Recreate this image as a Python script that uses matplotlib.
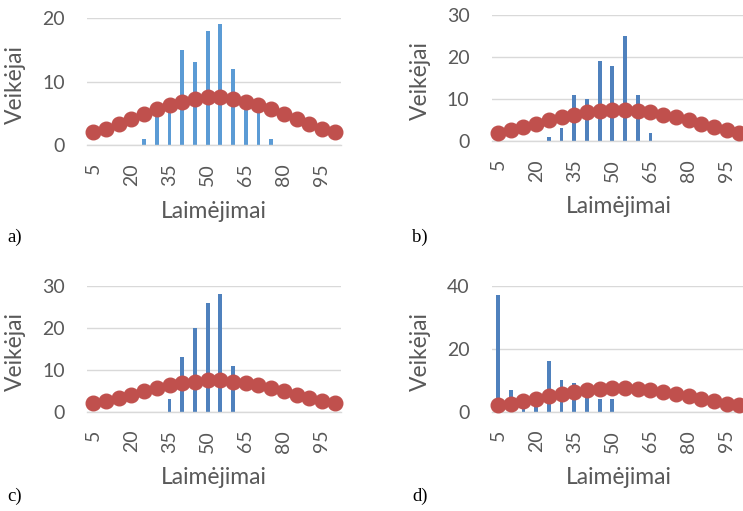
import matplotlib
matplotlib.use('Agg')
import matplotlib.pyplot as plt
import numpy as np

# Win categories (5..100) and the reference normal curve
wins = [5, 10, 15, 20, 25, 30, 35, 40, 45, 50, 55, 60, 65, 70, 75, 80, 85, 90, 95, 100]
curve = [2.0, 2.6, 3.3, 4.1, 4.9, 5.7, 6.3, 6.8, 7.2, 7.5,
         7.5, 7.2, 6.8, 6.3, 5.7, 4.9, 4.1, 3.3, 2.6, 2.0]

# number of characters per win bucket, one list per panel
counts_a = [0, 0, 0, 0, 1, 5, 5, 15, 13, 18, 19, 12, 6, 5, 1, 0, 0, 0, 0, 0]
counts_b = [0, 0, 0, 0, 1, 3, 11, 10, 19, 18, 25, 11, 2, 0, 0, 0, 0, 0, 0, 0]
counts_c = [0, 0, 0, 0, 0, 0, 3, 13, 20, 26, 28, 11, 0, 0, 0, 0, 0, 0, 0, 0]
counts_d = [37, 7, 2, 3, 16, 10, 9, 6, 4, 4, 0, 0, 0, 0, 0, 0, 0, 0, 0, 0]

plt.rcParams['font.family'] = ['Lato', 'DejaVu Sans']

fig = plt.figure(figsize=(7.43, 5.11), dpi=100)

panels = [
    # counts, colour, ymax, ystep, axes rect, letter, letter position
    (counts_a, '#5B9BD5', 20, 10, [0.1171, 0.7162, 0.3419, 0.2485], 'a)', (0.010, 0.536)),
    (counts_b, '#4F81BD', 30, 10, [0.6618, 0.7241, 0.3419, 0.2460], 'b)', (0.555, 0.536)),
    (counts_c, '#4F81BD', 30, 10, [0.1171, 0.1943, 0.3419, 0.2460], 'c)', (0.010, 0.028)),
    (counts_d, '#4F81BD', 40, 20, [0.6618, 0.1943, 0.3419, 0.2460], 'd)', (0.555, 0.028)),
]

x = np.arange(len(wins))
grey = '#595959'

for counts, col, ymax, ystep, rect, letter, lpos in panels:
    ax = fig.add_axes(rect)
    ax.bar(x, counts, width=0.3, color=col, zorder=2)
    ax.plot(x, curve, color='#C0504D', lw=2, marker='o', ms=10.5, zorder=3,
            clip_on=False)
    ax.set_xlim(-0.5, len(wins) - 0.5)
    ax.set_ylim(0, ymax)
    ax.set_yticks(np.arange(0, ymax + 1, ystep))
    ax.set_xticks(x[::3])
    ax.set_xticklabels([str(w) for w in wins[::3]], rotation=90)
    ax.tick_params(axis='x', length=0, pad=13, labelsize=14, colors=grey)
    ax.tick_params(axis='y', length=0, pad=16, labelsize=14, colors=grey)
    ax.grid(axis='y', color='#D9D9D9', lw=1, zorder=0)
    ax.set_axisbelow(True)
    for s in ['top', 'right', 'left']:
        ax.spines[s].set_visible(False)
    ax.spines['bottom'].set_color('#D9D9D9')
    ax.spines['bottom'].set_linewidth(1)
    ax.set_ylabel('Veikėjai', fontsize=16.5, color=grey)
    ax.set_xlabel('Laimėjimai', fontsize=16.5, color=grey)
    ax.yaxis.set_label_coords(-0.28, 0.48)
    ax.xaxis.set_label_coords(0.5, -0.525)
    ax.xaxis.label.set_va('center')
    ax.yaxis.label.set_va('center')
    fig.text(lpos[0], lpos[1], letter, family='Liberation Serif', fontsize=13.5,
             color='black', va='center')

fig.savefig('out.png', dpi=100)
